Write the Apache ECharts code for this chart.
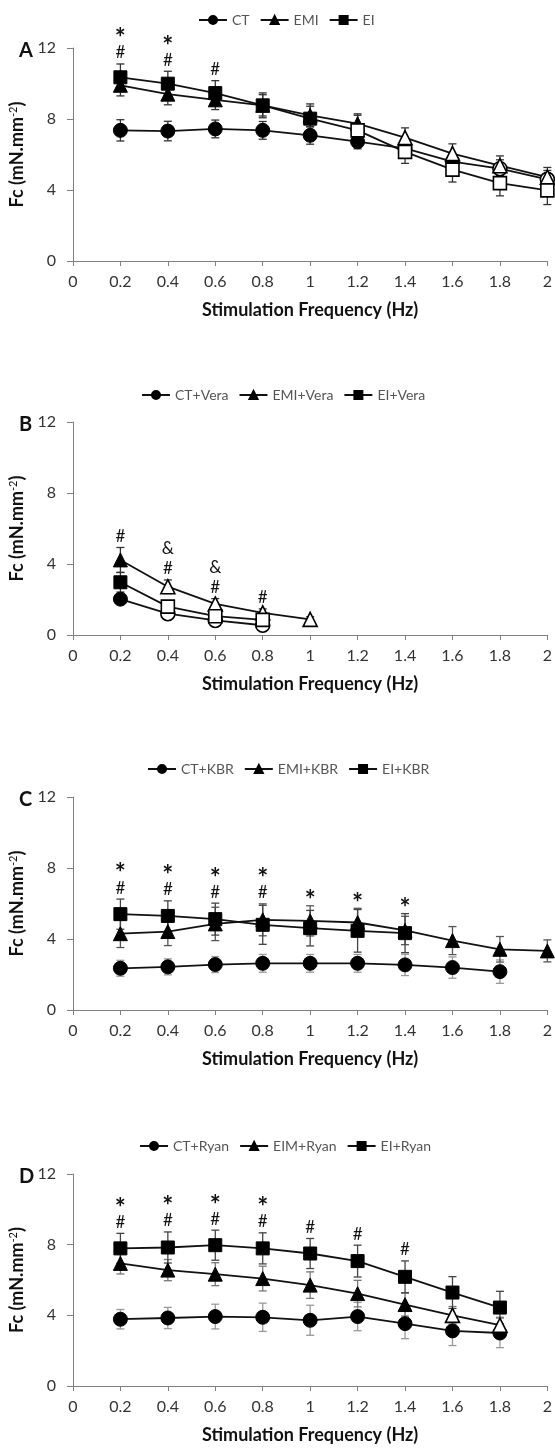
<!DOCTYPE html>
<html>
<head>
<meta charset="utf-8">
<script src="https://cdn.jsdelivr.net/npm/echarts@6/dist/echarts.min.js"></script>
<style>
  html, body { margin: 0; padding: 0; background: #fff; }
  #chart { width: 555px; height: 1448px; }
</style>
</head>
<body>
<div id="chart"></div>
<script>
// Stimulation frequencies (Hz) shared by every panel
const freqHz = [0.2, 0.4, 0.6, 0.8, 1.0, 1.2, 1.4, 1.6, 1.8, 2.0];
const xTicks = [0, 0.2, 0.4, 0.6, 0.8, 1, 1.2, 1.4, 1.6, 1.8, 2];
const yTicks = [0, 4, 8, 12];

// Panel A: untreated
const ctA = [7.36, 7.32, 7.44, 7.36, 7.08, 6.72, 6.35, 5.6, 5.2, 4.6];
const ctErrA = [0.6, 0.55, 0.5, 0.5, 0.5, 0.4, 0.45, 0.45, 0.5, 0.5];
const emiA = [9.9, 9.4, 9.08, 8.77, 8.2, 7.74, 6.95, 6.05, 5.37, 4.72];
const emiErrA = [0.6, 0.6, 0.55, 0.6, 0.65, 0.55, 0.55, 0.55, 0.55, 0.55];
const eiA = [10.35, 9.99, 9.46, 8.77, 8.02, 7.36, 6.15, 5.15, 4.39, 3.98];
const eiErrA = [0.75, 0.7, 0.7, 0.7, 0.7, 0.85, 0.65, 0.7, 0.72, 0.8];

// Panel B: verapamil
const ctB = [2.02, 1.2, 0.82, 0.55];
const ctErrB = [0.25, 0.2, 0.15, 0.15];
const emiB = [4.23, 2.72, 1.75, 1.25, 0.88];
const emiErrB = [0.7, 0.38, 0.3, 0.22, 0.15];
const eiB = [2.97, 1.6, 1.06, 0.85];
const eiErrB = [0.55, 0.3, 0.2, 0.2];

// Panel C: KBR
const ctC = [2.35, 2.43, 2.56, 2.63, 2.63, 2.63, 2.54, 2.39, 2.16];
const ctErrC = [0.45, 0.45, 0.45, 0.5, 0.5, 0.5, 0.6, 0.6, 0.66];
const emiC = [4.3, 4.42, 4.85, 5.08, 5.02, 4.93, 4.48, 3.91, 3.42, 3.33];
const emiErrC = [0.78, 0.79, 0.94, 0.9, 0.85, 0.8, 0.8, 0.79, 0.72, 0.62];
const eiC = [5.4, 5.3, 5.12, 4.8, 4.61, 4.46, 4.33];
const eiErrC = [0.85, 0.85, 0.9, 1.1, 1.0, 1.2, 1.1];

// Panel D: ryanodine
const ctD = [3.78, 3.85, 3.93, 3.89, 3.72, 3.93, 3.53, 3.12, 3.0];
const ctErrD = [0.55, 0.6, 0.7, 0.8, 0.85, 0.8, 0.85, 0.83, 0.83];
const eimD = [6.94, 6.56, 6.33, 6.08, 5.71, 5.23, 4.61, 4.0, 3.44];
const eimErrD = [0.6, 0.6, 0.65, 0.7, 0.75, 0.75, 0.65, 0.5, 0.45];
const eiD = [7.79, 7.84, 7.97, 7.79, 7.5, 7.07, 6.18, 5.29, 4.44];
const eiErrD = [0.85, 0.88, 0.85, 0.88, 0.85, 0.9, 0.9, 0.9, 0.92];

// Significance marks (top to bottom) above each frequency
const marksA = { 0.2: ['*', '#'], 0.4: ['*', '#'], 0.6: ['#'] };
const marksB = { 0.2: ['#'], 0.4: ['&', '#'], 0.6: ['&', '#'], 0.8: ['#'] };
const marksC = { 0.2: ['*', '#'], 0.4: ['*', '#'], 0.6: ['*', '#'], 0.8: ['*', '#'], 1.0: ['*'], 1.2: ['*'], 1.4: ['*'] };
const marksD = { 0.2: ['*', '#'], 0.4: ['*', '#'], 0.6: ['*', '#'], 0.8: ['*', '#'], 1.0: ['#'], 1.2: ['#'], 1.4: ['#'] };

const FONT = 'Lato, "Open Sans", sans-serif';

// Layout and marker styling of each panel
const panels = [
  { letter: 'A', top: 48, height: 213, legendLeft: 193, legendTop: 8, marks: marksA,
    series: [
      { name: 'CT', symbol: 'circle', v: ctA, e: ctErrA, openFrom: 8, errColor: '#333' },
      { name: 'EMI', symbol: 'triangle', v: emiA, e: emiErrA, openFrom: 6, errColor: '#333' },
      { name: 'EI', symbol: 'rect', v: eiA, e: eiErrA, openFrom: 5, errColor: '#333' }
    ] },
  { letter: 'B', top: 422, height: 213, legendLeft: 136, legendTop: 383, marks: marksB,
    series: [
      { name: 'CT+Vera', symbol: 'circle', v: ctB, e: ctErrB, openFrom: 1, errColor: '#333' },
      { name: 'EMI+Vera', symbol: 'triangle', v: emiB, e: emiErrB, openFrom: 1, errColor: '#333' },
      { name: 'EI+Vera', symbol: 'rect', v: eiB, e: eiErrB, openFrom: 1, errColor: '#333' }
    ] },
  { letter: 'C', top: 797, height: 213, legendLeft: 142, legendTop: 757, marks: marksC,
    series: [
      { name: 'CT+KBR', symbol: 'circle', v: ctC, e: ctErrC, openFrom: 99, errColor: '#999' },
      { name: 'EMI+KBR', symbol: 'triangle', v: emiC, e: emiErrC, openFrom: 99, errColor: '#555' },
      { name: 'EI+KBR', symbol: 'rect', v: eiC, e: eiErrC, openFrom: 99, errColor: '#444' }
    ] },
  { letter: 'D', top: 1174, height: 212, legendLeft: 134, legendTop: 1134, marks: marksD,
    series: [
      { name: 'CT+Ryan', symbol: 'circle', v: ctD, e: ctErrD, openFrom: 99, errColor: '#999' },
      { name: 'EIM+Ryan', symbol: 'triangle', v: eimD, e: eimErrD, openFrom: 7, errColor: '#777' },
      { name: 'EI+Ryan', symbol: 'rect', v: eiD, e: eiErrD, openFrom: 99, errColor: '#444' }
    ] }
];

const symbolSizes = { circle: 14, triangle: 14, rect: 13 };

const grids = [], xAxes = [], yAxes = [], legends = [], titles = [], series = [];

panels.forEach((p, gi) => {
  grids.push({ left: 71, right: 6, top: p.top, height: p.height });

  xAxes.push({
    type: 'value', gridIndex: gi, min: 0, max: 2, interval: 0.2,
    name: 'Stimulation Frequency (Hz)', nameLocation: 'middle', nameGap: 40,
    nameTextStyle: { fontFamily: FONT, fontWeight: 'bold', fontSize: 18, color: '#111' },
    axisLine: { lineStyle: { color: '#808080', width: 1 } },
    axisTick: { show: true, length: 5, lineStyle: { color: '#808080' } },
    axisLabel: {
      margin: 13, fontFamily: FONT, fontSize: 16, color: '#333',
      formatter: v => {
        const t = xTicks.find(k => Math.abs(k - v) < 1e-6);
        return t === undefined ? '' : String(t);
      }
    },
    splitLine: { show: false }
  });

  yAxes.push({
    type: 'value', gridIndex: gi, min: yTicks[0], max: yTicks[yTicks.length - 1], interval: 4,
    name: '{t|Fc (mN.mm}{s|-2}{t|)}', nameLocation: 'middle', nameGap: 41, nameRotate: 90,
    nameTextStyle: {
      rich: {
        t: { fontFamily: FONT, fontWeight: 'bold', fontSize: 18, color: '#111' },
        s: { fontFamily: FONT, fontSize: 11, color: '#111', verticalAlign: 'top', padding: [0, 0, 8, 0] }
      }
    },
    axisLine: { show: true, lineStyle: { color: '#808080', width: 1 } },
    axisTick: { show: true, length: 6, lineStyle: { color: '#808080' } },
    axisLabel: { margin: 17, fontFamily: FONT, fontSize: 16, color: '#333' },
    splitLine: { show: false }
  });

  titles.push({
    text: p.letter, left: 14, top: p.top - 12,
    textStyle: { fontFamily: FONT, fontWeight: 'bold', fontSize: 20, color: '#111' }
  });

  legends.push({
    data: p.series.map(s => s.name), left: p.legendLeft, top: p.legendTop,
    itemWidth: 28, itemHeight: 10, itemGap: 10,
    textStyle: { fontFamily: FONT, fontSize: 14, color: '#555' }
  });

  // error bars drawn beneath the lines and markers
  p.series.forEach(s => {
    series.push({
      type: 'custom', xAxisIndex: gi, yAxisIndex: gi, z: 1, silent: true,
      data: s.v.map((y, i) => [freqHz[i], y, s.e[i]]),
      renderItem: (params, api) => {
        const x = api.value(0), y = api.value(1), e = api.value(2);
        const hi = api.coord([x, y + e]);
        const lo = api.coord([x, y - e]);
        const st = { stroke: s.errColor, lineWidth: 1.3 };
        return {
          type: 'group',
          children: [
            { type: 'line', shape: { x1: hi[0], y1: hi[1], x2: lo[0], y2: lo[1] }, style: st },
            { type: 'line', shape: { x1: hi[0] - 4, y1: hi[1], x2: hi[0] + 4, y2: hi[1] }, style: st },
            { type: 'line', shape: { x1: lo[0] - 4, y1: lo[1], x2: lo[0] + 4, y2: lo[1] }, style: st }
          ]
        };
      }
    });
  });

  p.series.forEach(s => {
    series.push({
      type: 'line', name: s.name, xAxisIndex: gi, yAxisIndex: gi, z: 2,
      symbol: s.symbol, symbolSize: symbolSizes[s.symbol],
      lineStyle: { color: '#111', width: 1.8 },
      itemStyle: { color: '#000', borderColor: '#000', borderWidth: 1 },
      emphasis: { disabled: true },
      animation: false,
      data: s.v.map((y, i) => ({
        value: [freqHz[i], y],
        itemStyle: i >= s.openFrom
          ? { color: '#fff', borderColor: '#000', borderWidth: 1.6 }
          : { color: '#000', borderColor: '#000', borderWidth: 1 }
      }))
    });
  });

  // significance marks sit above the highest error bar at each frequency
  const markX = Object.keys(p.marks).map(Number);
  const markData = markX.map(x => {
    let top = -Infinity;
    p.series.forEach(s => {
      const i = freqHz.findIndex(f => Math.abs(f - x) < 1e-6);
      if (i >= 0 && i < s.v.length) top = Math.max(top, s.v[i] + s.e[i]);
    });
    return [x, top];
  });
  series.push({
    type: 'custom', xAxisIndex: gi, yAxisIndex: gi, z: 3, silent: true,
    data: markData,
    renderItem: (params, api) => {
      const pt = api.coord([api.value(0), api.value(1)]);
      const labels = p.marks[markX[params.dataIndex]];
      const n = labels.length;
      const children = labels.map((txt, k) => {
        const level = n - 1 - k;
        const cy = pt[1] - 11 - level * 20;
        const isStar = txt === '*';
        return {
          type: 'text',
          style: {
            x: pt[0], y: isStar ? cy + 6 : cy,
            text: txt, align: 'center', verticalAlign: 'middle',
            fontFamily: FONT, fontSize: isStar ? 26 : 17,
            fontWeight: isStar ? 'bold' : 'normal', fill: '#111'
          }
        };
      });
      return { type: 'group', children };
    }
  });
});

const chart = echarts.init(document.getElementById('chart'), null, { renderer: 'canvas' });
chart.setOption({
  animation: false,
  backgroundColor: '#fff',
  title: titles,
  legend: legends,
  grid: grids,
  xAxis: xAxes,
  yAxis: yAxes,
  series: series
});
</script>
</body>
</html>
